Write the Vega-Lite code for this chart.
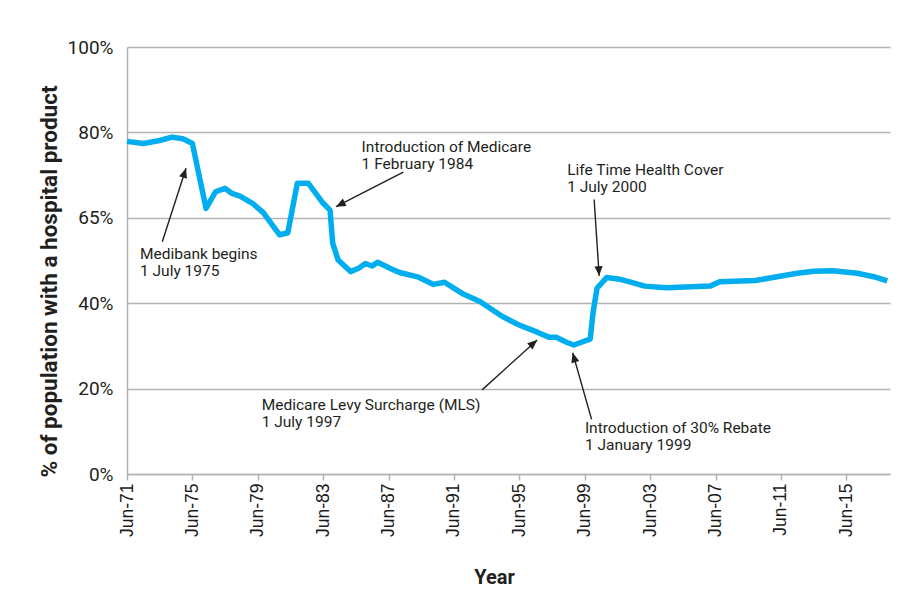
{
  "$schema": "https://vega.github.io/schema/vega-lite/v6.json",
  "width": 763,
  "height": 427,
  "autosize": {"type": "none"},
  "padding": {"left": 127, "top": 47, "right": 22, "bottom": 127},
  "background": "white",
  "config": {"view": {"stroke": null}},
  "datasets": {
    "cover": [
      {"date": "1971-06-01", "value": 77.9},
      {"date": "1972-06-01", "value": 77.4},
      {"date": "1973-06-01", "value": 78.1},
      {"date": "1974-03-01", "value": 78.9},
      {"date": "1974-11-01", "value": 78.5},
      {"date": "1975-06-01", "value": 77.4},
      {"date": "1976-04-01", "value": 62.2},
      {"date": "1976-11-01", "value": 66.1},
      {"date": "1977-06-01", "value": 66.9},
      {"date": "1977-11-01", "value": 65.7},
      {"date": "1978-05-01", "value": 65.1},
      {"date": "1979-02-01", "value": 63.4},
      {"date": "1979-10-01", "value": 61.2},
      {"date": "1980-10-01", "value": 56.0},
      {"date": "1981-04-01", "value": 56.5},
      {"date": "1981-11-01", "value": 68.1},
      {"date": "1982-07-01", "value": 68.1},
      {"date": "1983-06-01", "value": 63.4},
      {"date": "1983-11-01", "value": 61.8},
      {"date": "1984-01-01", "value": 54.0},
      {"date": "1984-05-01", "value": 50.1},
      {"date": "1985-02-01", "value": 47.4},
      {"date": "1985-08-01", "value": 48.2},
      {"date": "1986-01-01", "value": 49.3},
      {"date": "1986-06-01", "value": 48.7},
      {"date": "1986-10-01", "value": 49.6},
      {"date": "1987-07-01", "value": 48.2},
      {"date": "1988-02-01", "value": 47.2},
      {"date": "1989-04-01", "value": 46.1},
      {"date": "1990-03-01", "value": 44.4},
      {"date": "1990-11-01", "value": 44.9},
      {"date": "1991-12-01", "value": 42.3},
      {"date": "1993-01-01", "value": 40.4},
      {"date": "1994-05-01", "value": 37.0},
      {"date": "1995-05-01", "value": 35.0},
      {"date": "1996-08-01", "value": 33.1},
      {"date": "1997-04-01", "value": 32.0},
      {"date": "1997-09-01", "value": 32.0},
      {"date": "1998-05-01", "value": 30.8},
      {"date": "1998-10-01", "value": 30.2},
      {"date": "1999-03-01", "value": 30.8},
      {"date": "1999-10-01", "value": 31.6},
      {"date": "1999-12-01", "value": 37.6},
      {"date": "2000-03-01", "value": 43.5},
      {"date": "2000-10-01", "value": 46.0},
      {"date": "2001-08-01", "value": 45.6},
      {"date": "2002-03-01", "value": 45.0},
      {"date": "2003-02-01", "value": 44.0},
      {"date": "2004-06-01", "value": 43.6},
      {"date": "2007-02-01", "value": 44.0},
      {"date": "2007-09-01", "value": 45.0},
      {"date": "2009-11-01", "value": 45.3},
      {"date": "2010-12-01", "value": 46.0},
      {"date": "2012-06-01", "value": 47.0},
      {"date": "2013-06-01", "value": 47.5},
      {"date": "2014-08-01", "value": 47.6},
      {"date": "2016-02-01", "value": 47.0},
      {"date": "2017-02-01", "value": 46.2},
      {"date": "2017-12-01", "value": 45.2}
    ],
    "arrows": [
      {"event": "Medibank", "x": "1973-07-28", "y": 54.4, "x2": "1975-01-10", "y2": 71.6, "angle": 17.9},
      {"event": "Medicare", "x": "1988-04-25", "y": 70.7, "x2": "1984-03-13", "y2": 62.6, "angle": 242.9},
      {"event": "LTHC", "x": "1999-12-28", "y": 64.3, "x2": "2000-04-18", "y2": 46.4, "angle": 176.3},
      {"event": "MLS", "x": "1993-02-18", "y": 19.7, "x2": "1996-07-04", "y2": 31.4, "angle": 49.2},
      {"event": "Rebate", "x": "1999-11-01", "y": 12.8, "x2": "1998-09-04", "y2": 28.4, "angle": 344.1}
    ],
    "labels": [
      {"x": "1972-03-17", "y": 50.3, "label": "Medibank begins\n1 July 1975"},
      {"x": "1985-10-07", "y": 75.4, "label": "Introduction of Medicare\n1 February 1984"},
      {"x": "1998-05-04", "y": 70.0, "label": "Life Time Health Cover\n1 July 2000"},
      {"x": "1979-08-27", "y": 15.0, "label": "Medicare Levy Surcharge (MLS)\n1 July 1997"},
      {"x": "1999-06-04", "y": 9.5, "label": "Introduction of 30% Rebate\n1 January 1999"}
    ]
  },
  "layer": [
    {
      "data": {"name": "cover"},
      "mark": {"type": "line", "color": "#00aeef", "strokeWidth": 5.5, "strokeJoin": "round"},
      "encoding": {
        "x": {
          "field": "date", "type": "temporal",
          "title": "Year",
          "scale": {"type": "utc", "domain": [{"year": 1971, "month": 6, "date": 1, "utc": true}, {"year": 2018, "month": 2, "date": 1, "utc": true}]},
          "axis": {
            "title": "Year",
            "values": [
              {"year": 1971, "month": 6, "date": 1, "utc": true},
              {"year": 1975, "month": 6, "date": 1, "utc": true},
              {"year": 1979, "month": 6, "date": 1, "utc": true},
              {"year": 1983, "month": 6, "date": 1, "utc": true},
              {"year": 1987, "month": 6, "date": 1, "utc": true},
              {"year": 1991, "month": 6, "date": 1, "utc": true},
              {"year": 1995, "month": 6, "date": 1, "utc": true},
              {"year": 1999, "month": 6, "date": 1, "utc": true},
              {"year": 2003, "month": 6, "date": 1, "utc": true},
              {"year": 2007, "month": 6, "date": 1, "utc": true},
              {"year": 2011, "month": 6, "date": 1, "utc": true},
              {"year": 2015, "month": 6, "date": 1, "utc": true}
            ],
            "format": "%b-%y",
            "labelAngle": -90,
            "labelFont": "Liberation Sans",
            "labelFontSize": 17.5,
            "labelColor": "#1a1a1a",
            "labelPadding": 3,
            "labelOverlap": false,
            "labelFlush": false,
            "tickSize": 6,
            "tickColor": "#b3b3b3",
            "tickWidth": 1.5,
            "domainColor": "#b3b3b3",
            "domainWidth": 1.5,
            "grid": false,
            "titleFont": "Roboto",
            "titleFontSize": 20,
            "titleFontWeight": "bold",
            "titleColor": "#231f20",
            "titleX": 367,
            "titleY": 93
          }
        },
        "y": {
          "field": "value", "type": "quantitative",
          "title": "% of population with a hospital product",
          "scale": {"domain": [0, 100], "nice": false, "zero": true},
          "axis": {
            "title": "% of population with a hospital product",
            "values": [0, 20, 40, 60, 80, 100],
            "labelExpr": "datum.value == 60 ? '65%' : datum.value + '%'",
            "labelFont": "Roboto",
            "labelFontSize": 19,
            "labelColor": "#231f20",
            "labelPadding": 14,
            "ticks": false,
            "grid": true,
            "gridColor": "#b3b3b3",
            "gridWidth": 1.5,
            "domainColor": "#b3b3b3",
            "domainWidth": 1.5,
            "titleFont": "Roboto",
            "titleFontSize": 22.5,
            "titleFontWeight": "bold",
            "titleColor": "#231f20",
            "titlePadding": 6,
            "titleY": 234
          }
        }
      }
    },
    {
      "data": {"name": "arrows"},
      "mark": {"type": "rule", "color": "#231f20", "strokeWidth": 1.4},
      "encoding": {
        "x": {"field": "x", "type": "temporal", "title": "Year"},
        "x2": {"field": "x2"},
        "y": {"field": "y", "type": "quantitative", "title": "% of population with a hospital product"},
        "y2": {"field": "y2"}
      }
    },
    {
      "data": {"name": "arrows"},
      "mark": {"type": "point", "shape": "M0,0L-0.42,1L0.42,1Z", "filled": true, "color": "#231f20", "opacity": 1, "size": 380},
      "encoding": {
        "x": {"field": "x2", "type": "temporal", "title": "Year"},
        "y": {"field": "y2", "type": "quantitative", "title": "% of population with a hospital product"},
        "angle": {"field": "angle", "type": "quantitative", "scale": null}
      }
    },
    {
      "data": {"name": "labels"},
      "mark": {"type": "text", "align": "left", "baseline": "alphabetic", "lineBreak": "\n", "lineHeight": 17, "font": "Roboto", "fontSize": 15.5, "color": "#231f20"},
      "encoding": {
        "x": {"field": "x", "type": "temporal", "title": "Year"},
        "y": {"field": "y", "type": "quantitative", "title": "% of population with a hospital product"},
        "text": {"field": "label"}
      }
    }
  ]
}
